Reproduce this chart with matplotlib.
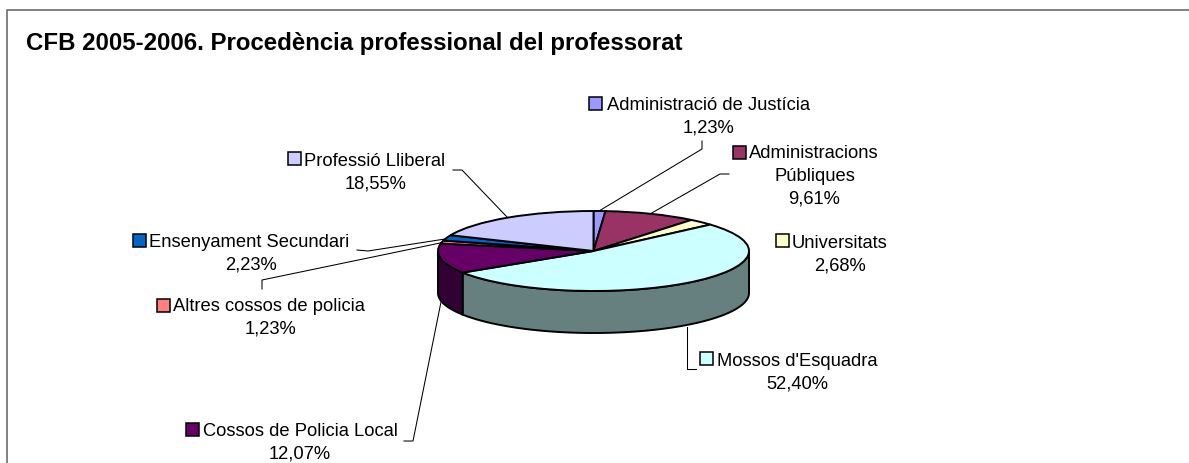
import matplotlib
matplotlib.use('Agg')
import matplotlib.pyplot as plt
from matplotlib.colors import to_rgb
from matplotlib.patches import Rectangle
import numpy as np

plt.rcParams['font.family'] = ['Liberation Sans', 'DejaVu Sans']

W, H = 1189, 464

# dades
categories = ['Administració de Justícia', 'Administracions', 'Universitats', "Mossos d'Esquadra",
              'Cossos de Policia Local', 'Altres cossos de policia', 'Ensenyament Secundari', 'Professió Lliberal']
values = [1.23, 9.61, 2.68, 52.40, 12.07, 1.23, 2.23, 18.55]
colors = ['#9999FF', '#993366', '#FFFFCC', '#CCFFFF', '#660066', '#FF8080', '#0066CC', '#CCCCFF']
title = 'CFB 2005-2006. Procedència professional del professorat'

# posicions de les etiquetes, en pixels: quadrat x, y, text x, y, percentatge x, y
label_pos = [(589, 98, 607, 110, 708, 133),
             (733, 147, 749, 158, 814, 204),
             (776, 235, 792, 248, 840, 271),
             (700, 353, 717, 366, 797, 389),
             (186, 424, 203, 436, 300, 459),
             (157, 300, 173, 311, 270, 334),
             (133, 235, 149, 247, 251, 270),
             (288, 153, 304, 166, 376, 189)]
leaders = [[(702, 142), (702, 150), (599, 212)],
           [(729, 175), (720, 175), (650, 215)],
           [(687, 328), (687, 370), (696, 370)],
           [(441, 303), (413, 442), (404, 442)],
           [(445, 243), (262, 281), (262, 290)],
           [(445, 240), (368, 252), (357, 251)],
           [(507, 218), (462, 171), (453, 171)]]

fig = plt.figure(figsize=(W / 100, H / 100), dpi=100, facecolor='white')

# capa en pixels per a textos i linies
bg = fig.add_axes([0, 0, 1, 1])
bg.set_xlim(0, W)
bg.set_ylim(H, 0)
bg.axis('off')

bg.plot([7, 7, W], [H, 11, 11], color='#606060', lw=1.1, solid_joinstyle='miter')
bg.text(26, 50, title, fontsize=17.25, fontweight='bold', va='baseline', color='black')

fs = 13.2
for i, name in enumerate(categories):
    sx, sy, tx, ty, vx, vy = label_pos[i]
    bg.add_patch(Rectangle((sx, sy), 13, 13, fc=colors[i], ec='black', lw=1.1))
    bg.text(tx, ty, name, fontsize=fs, va='baseline', color='black')
    bg.text(vx, vy, f'{values[i]:.2f}%'.replace('.', ','), fontsize=fs, ha='center', va='baseline', color='black')
bg.text(815, 181, 'Públiques', fontsize=fs, ha='center', va='baseline', color='black')

for pts in leaders:
    bg.plot([p[0] for p in pts], [p[1] for p in pts], color='black', lw=0.75)

# pastis: elipse de 311x80 px amb gruix de 42 px
ax = fig.add_axes([438 / W, (H - 292) / H, 311 / W, 80 / H])
ax.patch.set_alpha(0)
depth = 42 / 40

cum = np.concatenate([[0], np.cumsum(values)]) / sum(values)
for i in range(len(values)):
    # nomes la part davantera es veu
    a0 = min(90 - 360 * cum[i], 0)
    a1 = max(90 - 360 * cum[i + 1], -180)
    if a0 <= a1:
        continue
    t = np.radians(np.linspace(a0, a1, 80))
    xs = np.concatenate([np.cos(t), np.cos(t[::-1])])
    ys = np.concatenate([np.sin(t), np.sin(t[::-1]) - depth])
    ax.fill(xs, ys, facecolor=tuple(c * 0.5 for c in to_rgb(colors[i])), edgecolor='black', lw=1.4, clip_on=False, zorder=0)

wedges, _ = ax.pie(values, colors=colors, startangle=90, counterclock=False, radius=1,
                   wedgeprops=dict(edgecolor='black', linewidth=1.4))
for w in wedges:
    w.set_clip_on(False)
ax.set_aspect('auto')
ax.set_xlim(-1, 1)
ax.set_ylim(-1, 1)

fig.savefig('out.png', dpi=100)
